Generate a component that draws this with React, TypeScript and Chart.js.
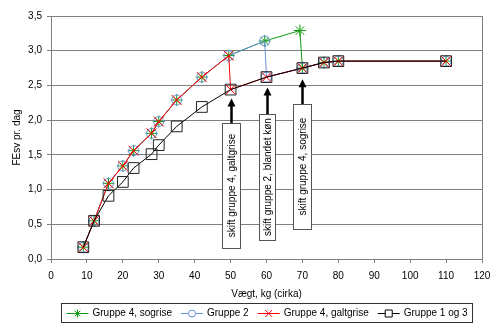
import React, { useEffect, useRef } from 'react';
import { Chart, registerables } from 'chart.js';

Chart.register(...registerables);

// ---- Data ----
const sogriseX = [9, 12, 16, 20, 23, 28, 30, 35, 42, 49.5, 59.5, 69.3, 70, 76, 80, 110];
const sogriseY = [0.17, 0.55, 1.09, 1.34, 1.56, 1.81, 1.98, 2.29, 2.62, 2.93, 3.14, 3.29, 2.75, 2.83, 2.85, 2.85];

const gruppe2X = [9, 12, 16, 20, 23, 28, 30, 35, 42, 49.5, 59.5, 60, 70, 76, 80, 110];
const gruppe2Y = [0.17, 0.55, 1.09, 1.34, 1.56, 1.81, 1.98, 2.29, 2.62, 2.93, 3.14, 2.62, 2.75, 2.83, 2.85, 2.85];

const galtgriseX = [9, 12, 16, 20, 23, 28, 30, 35, 42, 49.5, 50, 60, 70, 76, 80, 110];
const galtgriseY = [0.17, 0.55, 1.09, 1.34, 1.56, 1.81, 1.98, 2.29, 2.62, 2.93, 2.44, 2.62, 2.75, 2.83, 2.85, 2.85];

const gruppe13X = [9, 12, 16, 20, 23, 28, 30, 35, 42, 50, 60, 70, 76, 80, 110];
const gruppe13Y = [0.17, 0.55, 0.91, 1.11, 1.31, 1.51, 1.64, 1.91, 2.19, 2.44, 2.62, 2.75, 2.83, 2.85, 2.85];

const seriesLabels = ['Gruppe 4, sogrise', 'Gruppe 2', 'Gruppe 4, galtgrise', 'Gruppe 1 og 3'];
const annotationTexts = ['skift gruppe 4, galtgrise', 'skift gruppe 2, blandet køn', 'skift gruppe 4, sogrise'];
const annotationX = [50, 60, 70];
const annotationTipY = [2.31, 2.47, 2.59];
const annotationTopY = [1.96, 2.09, 2.23];
const annotationBottomY = [0.16, 0.27, 0.43];

const xTitle = 'Vægt, kg (cirka)';
const yTitle = 'FEsv pr. dag';

const FONT = '"Liberation Sans", Arial, sans-serif';
const COLORS = ['#109a10', '#6a92dc', '#ff0000', '#000000'];
const STYLES = ['star', 'circle', 'crossRot', 'rect'];

const toPts = (xs: number[], ys: number[]) => xs.map((x, i) => ({ x, y: ys[i] }));

function drawMarker(ctx: CanvasRenderingContext2D, style: string, x: number, y: number, r: number, color: string) {
  ctx.save();
  ctx.strokeStyle = color;
  ctx.lineWidth = 1;
  ctx.beginPath();
  if (style === 'circle') {
    ctx.fillStyle = '#fff';
    ctx.arc(x, y, r, 0, Math.PI * 2);
    ctx.fill();
    ctx.stroke();
  } else if (style === 'rect') {
    ctx.fillStyle = '#fff';
    ctx.rect(x - r, y - r, 2 * r, 2 * r);
    ctx.fill();
    ctx.stroke();
  } else if (style === 'crossRot') {
    const d = r * Math.SQRT1_2 * 1.2;
    ctx.moveTo(x - d, y - d); ctx.lineTo(x + d, y + d);
    ctx.moveTo(x + d, y - d); ctx.lineTo(x - d, y + d);
    ctx.stroke();
  } else {
    const d = r * Math.SQRT1_2;
    ctx.moveTo(x - r, y); ctx.lineTo(x + r, y);
    ctx.moveTo(x, y - r); ctx.lineTo(x, y + r);
    ctx.moveTo(x - d, y - d); ctx.lineTo(x + d, y + d);
    ctx.moveTo(x + d, y - d); ctx.lineTo(x - d, y + d);
    ctx.stroke();
  }
  ctx.restore();
}

const framePlugin = {
  id: 'frame',
  beforeDatasetsDraw(chart: any) {
    const { ctx, chartArea: a } = chart;
    ctx.save();
    ctx.strokeStyle = '#808080';
    ctx.lineWidth = 1;
    ctx.beginPath();
    ctx.moveTo(Math.round(a.right) + 0.5, a.top);
    ctx.lineTo(Math.round(a.right) + 0.5, a.bottom);
    ctx.stroke();
    ctx.restore();
  },
};

const annotationPlugin = {
  id: 'arrows',
  afterDatasetsDraw(chart: any) {
    const { ctx, scales } = chart;
    const xs = scales.x, ys = scales.y;
    const widths = [18, 16, 18];
    ctx.save();
    annotationTexts.forEach((text, i) => {
      const cx = Math.round(xs.getPixelForValue(annotationX[i]));
      const top = Math.round(ys.getPixelForValue(annotationTopY[i]));
      const bottom = Math.round(ys.getPixelForValue(annotationBottomY[i]));
      const tip = ys.getPixelForValue(annotationTipY[i]);
      const w = widths[i];
      const left = Math.round(cx - w / 2);
      // box
      ctx.fillStyle = '#fff';
      ctx.strokeStyle = '#555';
      ctx.lineWidth = 1;
      ctx.fillRect(left + 0.5, top + 0.5, w, bottom - top);
      ctx.strokeRect(left + 0.5, top + 0.5, w, bottom - top);
      // text
      ctx.save();
      ctx.translate(left + w / 2 + 1, (top + bottom) / 2);
      ctx.rotate(-Math.PI / 2);
      ctx.fillStyle = '#000';
      ctx.font = '10px ' + FONT;
      ctx.textAlign = 'center';
      ctx.textBaseline = 'middle';
      ctx.fillText(text, 0, 0);
      ctx.restore();
      // arrow
      ctx.strokeStyle = '#000';
      ctx.fillStyle = '#000';
      ctx.lineWidth = 2.5;
      ctx.beginPath();
      ctx.moveTo(cx + 0.5, top);
      ctx.lineTo(cx + 0.5, tip + 6);
      ctx.stroke();
      ctx.beginPath();
      ctx.moveTo(cx + 0.5, tip);
      ctx.lineTo(cx + 0.5 - 4, tip + 8);
      ctx.lineTo(cx + 0.5 + 4, tip + 8);
      ctx.closePath();
      ctx.fill();
    });
    ctx.restore();
  },
};

const legendPlugin = {
  id: 'boxLegend',
  afterDraw(chart: any) {
    const { ctx, chartArea: a } = chart;
    ctx.save();
    ctx.font = '10px ' + FONT;
    const sample = 22, gap = 4, spacing = 9, padX = 5;
    const widths = seriesLabels.map((l) => ctx.measureText(l).width);
    const total = widths.reduce((s, w) => s + sample + gap + w, 0) + spacing * (seriesLabels.length - 1);
    const boxW = Math.round(total + 2 * padX);
    const cx = (a.left + a.right) / 2;
    const left = Math.round(cx - boxW / 2) + 0.5;
    const top = chart.height - 31 + 0.5;
    const h = 19;
    ctx.strokeStyle = '#333';
    ctx.lineWidth = 1;
    ctx.strokeRect(left, top, boxW, h);
    let x = left + padX;
    const cy = top + h / 2;
    seriesLabels.forEach((l, i) => {
      ctx.strokeStyle = COLORS[i];
      ctx.lineWidth = 1;
      ctx.beginPath();
      ctx.moveTo(x, Math.round(cy) + 0.5);
      ctx.lineTo(x + sample, Math.round(cy) + 0.5);
      ctx.stroke();
      const ms = STYLES[i] === 'rect' ? 3.5 : STYLES[i] === 'circle' ? 3.5 : 4;
      drawMarker(ctx, STYLES[i], x + sample / 2, Math.round(cy) + 0.5, ms, COLORS[i]);
      ctx.fillStyle = '#000';
      ctx.textAlign = 'left';
      ctx.textBaseline = 'middle';
      ctx.fillText(l, x + sample + gap, cy + 0.5);
      x += sample + gap + widths[i] + spacing;
    });
    ctx.restore();
  },
};

export default function App() {
  const ref = useRef<HTMLCanvasElement | null>(null);

  useEffect(() => {
    document.body.style.margin = '0';
    const canvas = ref.current;
    if (!canvas) return;
    const series = [
      { xs: sogriseX, ys: sogriseY, r: 6, order: 3 },
      { xs: gruppe2X, ys: gruppe2Y, r: 5, order: 2 },
      { xs: galtgriseX, ys: galtgriseY, r: 7, order: 1 },
      { xs: gruppe13X, ys: gruppe13Y, r: 7.6, order: 0 },
    ];
    const chart = new Chart(canvas, {
      type: 'scatter',
      data: {
        datasets: series.map((s, i) => ({
          label: seriesLabels[i],
          data: toPts(s.xs, s.ys),
          showLine: true,
          borderColor: COLORS[i],
          backgroundColor: 'rgba(0,0,0,0)',
          borderWidth: 1,
          pointStyle: STYLES[i] as any,
          pointRadius: s.r,
          pointBorderWidth: 1,
          pointBorderColor: i === 3 ? '#222' : COLORS[i],
          pointBackgroundColor: 'rgba(0,0,0,0)',
          order: s.order,
          tension: 0,
        })),
      },
      options: {
        animation: false,
        responsive: false,
        devicePixelRatio: 1,
        layout: { padding: { left: 0, top: 16, right: 18, bottom: 34 } },
        plugins: {
          legend: { display: false },
          tooltip: { enabled: false },
        },
        scales: {
          x: {
            type: 'linear',
            min: 0,
            max: 120,
            ticks: {
              stepSize: 10,
              padding: 7,
              color: '#000',
              font: { family: FONT, size: 10 },
              maxRotation: 0,
            },
            grid: { drawOnChartArea: false, drawTicks: true, tickLength: 4, color: '#808080' },
            border: { display: true, color: '#808080' },
            title: {
              display: true,
              text: xTitle,
              color: '#000',
              font: { family: FONT, size: 10 },
              padding: { top: 0, bottom: 0 },
            },
            afterFit: (s: any) => { s.height = 41; },
          },
          y: {
            type: 'linear',
            min: 0,
            max: 3.5,
            ticks: {
              stepSize: 0.5,
              padding: 5,
              color: '#000',
              font: { family: FONT, size: 10 },
              callback: (v: any) => Number(v).toFixed(1).replace('.', ','),
            },
            grid: { color: '#808080', tickLength: 4, lineWidth: 1 },
            border: { display: true, color: '#808080' },
            title: {
              display: true,
              text: yTitle,
              color: '#000',
              font: { family: FONT, size: 10 },
              padding: { top: 11, bottom: 0 },
            },
            afterFit: (s: any) => { s.width = 51; },
          },
        },
      },
      plugins: [framePlugin, annotationPlugin, legendPlugin],
    });
    return () => chart.destroy();
  }, []);

  return (
    <div style={{ width: 500, height: 334, background: '#fff' }}>
      <canvas ref={ref} width={500} height={334} style={{ display: 'block' }} />
    </div>
  );
}
